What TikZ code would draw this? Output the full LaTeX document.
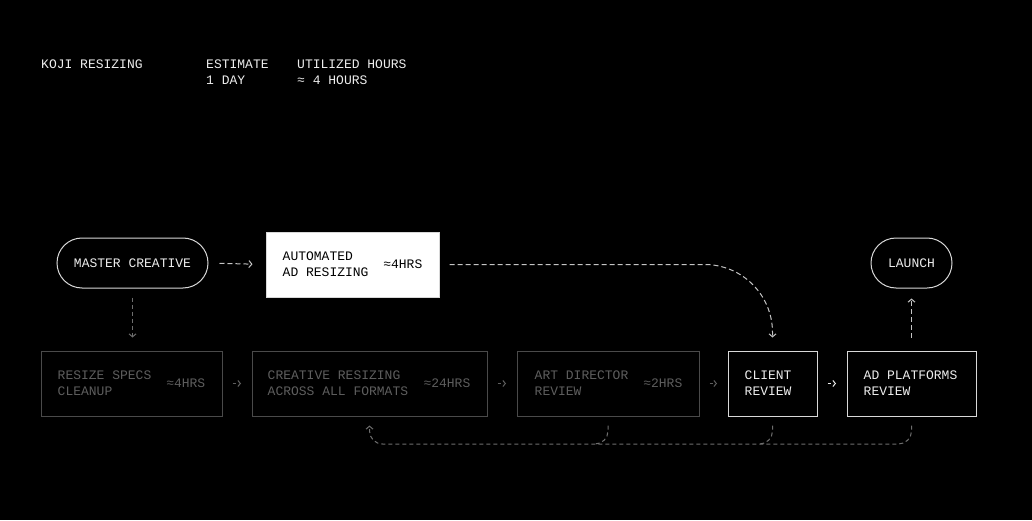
\documentclass[tikz,border=0pt]{standalone}
\usepackage{fontspec}
\setmainfont{Liberation Mono}
\usetikzlibrary{arrows.meta, calc, positioning, shapes.misc}

\definecolor{hell}{HTML}{EDEDED}
\definecolor{hellrand}{HTML}{D8D8D8}
\definecolor{grautext}{HTML}{5E5E5E}
\definecolor{graurand}{HTML}{4A4A4A}
\definecolor{strich}{HTML}{C4C4C4}
\definecolor{rueck}{HTML}{6E6E6E}

\begin{document}
\begin{tikzpicture}[x=1pt, y=1pt]

%%% Definitionen der Styles
\tikzset{
  txt/.style = {inner sep=0pt, font=\fontsize{13}{16}\selectfont, text=hell, align=left},
  pill/.style = {rounded rectangle, draw=hellrand, line width=1pt, inner sep=0pt,
                 minimum height=50pt, text=hell, font=\fontsize{13}{16}\selectfont},
  kasten/.style = {rectangle, draw=hellrand, line width=1pt, minimum height=65pt, inner sep=0pt},
  kastengrau/.style = {kasten, draw=graurand},
  spitze/.style = {-{Straight Barb[length=3pt, width=7pt]}},
  pfeilstrich/.style = {spitze, draw=strich, line width=1pt, dash pattern=on 5pt off 3pt},
  rueckstrich/.style = {draw=rueck, line width=1pt, dash pattern=on 4pt off 3pt, rounded corners=13pt},
  kurzpfeil/.style = {-{Straight Barb[length=2.5pt, width=6pt]}, draw=grautext, line width=1pt,
                      dash pattern=on 3pt off 10pt, shorten <=10pt, shorten >=10.5pt}
}

%%% Hintergrund und BoundingBox
\fill[black] (0,0) rectangle (1032,520);
\useasboundingbox (0,0) rectangle (1032,520);

%%% Kopfzeile
\node[txt, anchor=base west] (titel) at (41,451) {KOJI RESIZING};
\node[txt, anchor=base west] (est) at (206,451) {ESTIMATE};
\node[txt, anchor=base west] (estwert) at (206,435) {1 DAY};
\node[txt, anchor=base west] (std) at (297,451) {UTILIZED HOURS};
\node[txt, anchor=base west] (stdwert) at (297,435) {≈ 4 HOURS};

%%% Obere Reihe
\node[pill, minimum width=151pt] (master) at (132.5,257) {MASTER CREATIVE};
\node[kasten, fill=white, minimum width=173pt] (auto) at (352.5,255.5) {};
	\node[txt, text=black, anchor=west] (auto-t) at ([xshift=17pt]auto.west) {AUTOMATED\\AD RESIZING};
	\node[txt, text=black, anchor=east] (auto-h) at ([xshift=-17pt]auto.east) {≈4HRS};
\node[pill, minimum width=81pt] (launch) at (911.5,257) {LAUNCH};

%%% Untere Reihe
\node[kastengrau, minimum width=181pt] (specs) at (131.5,136.5) {};
	\node[txt, text=grautext, anchor=west] (specs-t) at ([xshift=17pt]specs.west) {RESIZE SPECS\\CLEANUP};
	\node[txt, text=grautext, anchor=east] (specs-h) at ([xshift=-17pt]specs.east) {≈4HRS};
\node[kastengrau, minimum width=235pt] (formate) at (369.5,136.5) {};
	\node[txt, text=grautext, anchor=west] (formate-t) at ([xshift=16pt]formate.west) {CREATIVE RESIZING\\ACROSS ALL FORMATS};
	\node[txt, text=grautext, anchor=east] (formate-h) at ([xshift=-17pt]formate.east) {≈24HRS};
\node[kastengrau, minimum width=182pt] (art) at (608,136.5) {};
	\node[txt, text=grautext, anchor=west] (art-t) at ([xshift=18pt]art.west) {ART DIRECTOR\\REVIEW};
	\node[txt, text=grautext, anchor=east] (art-h) at ([xshift=-17pt]art.east) {≈2HRS};
\node[kasten, minimum width=89pt] (client) at (772.5,136.5) {};
	\node[txt, anchor=west] (client-t) at ([xshift=17pt]client.west) {CLIENT\\REVIEW};
\node[kasten, minimum width=129pt] (platt) at (911.5,136.5) {};
	\node[txt, anchor=west] (platt-t) at ([xshift=17pt]platt.west) {AD PLATFORMS\\REVIEW};

%%% Verbindungen
\draw[pfeilstrich, shorten <=11pt, shorten >=13pt] (master.east) -- (auto.west);
\draw[pfeilstrich, rounded corners=68pt, shorten <=10pt, shorten >=13pt] (auto.east) -| (client.north);
\draw[pfeilstrich, draw=rueck, dash pattern=on 4pt off 3pt, shorten <=9pt, shorten >=13pt] (master.south) -- (master.south |- specs.north);
\draw[pfeilstrich, shorten <=13pt, shorten >=10pt] (platt.north) -- (launch.south);

\draw[kurzpfeil] (specs.east) -- (formate.west);
\draw[kurzpfeil] (formate.east) -- (art.west);
\draw[kurzpfeil] (art.east) -- (client.west);
\draw[kurzpfeil, draw=hell] (client.east) -- (platt.west);

%%% Rueckfuehrung
\coordinate (rueckweg) at (0,76);
\draw[rueckstrich, spitze, shorten <=9pt, shorten >=9pt] (platt.south) |- (formate.south |- rueckweg) -- (formate.south);
\draw[rueckstrich, shorten <=9pt] (art.south) |- ([xshift=-15pt]art.south |- rueckweg);
\draw[rueckstrich, shorten <=9pt] (client.south) |- ([xshift=-15pt]client.south |- rueckweg);

\end{tikzpicture}
\end{document}
